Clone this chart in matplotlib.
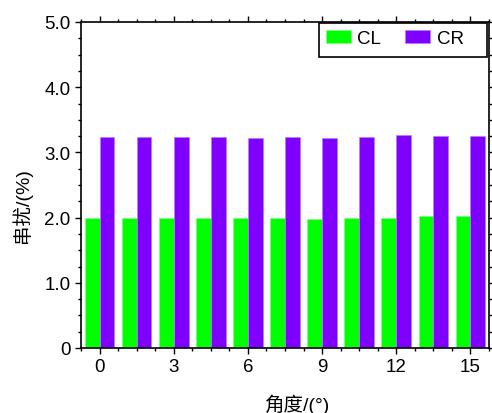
"""Crosstalk bar chart: CL vs CR across angle."""

import matplotlib

matplotlib.use("Agg")

import matplotlib.pyplot as plt
import numpy as np
from matplotlib.patches import Rectangle
from matplotlib.ticker import FuncFormatter, MultipleLocator

angles = [0, 1.5, 3, 4.5, 6, 7.5, 9, 10.5, 12, 13.5, 15]
cl_values = [1.99, 1.99, 1.99, 1.99, 1.99, 1.99, 1.98, 2.00, 2.00, 2.02, 2.02]
cr_values = [3.23, 3.23, 3.23, 3.24, 3.22, 3.23, 3.22, 3.23, 3.27, 3.25, 3.25]
series_names = ["CL", "CR"]
xlabel = "角度/(°)"
ylabel = "串扰/(%)"

plt.rcParams["font.family"] = ["Liberation Sans", "Noto Sans CJK SC"]

W, H = 492, 414
fig = plt.figure(figsize=(W / 100, H / 100), dpi=100)
ax = fig.add_axes([81 / W, 1 - 349 / H, 408 / W, 326 / H])

x = np.array(angles)
width = 0.6
ax.bar(x - width / 2, cl_values, width, color="#00ff00", edgecolor="#7fff7f",
       linewidth=0.5, label=series_names[0])
ax.bar(x + width / 2, cr_values, width, color="#8000ff", edgecolor="#b080ff",
       linewidth=0.5, label=series_names[1])

ax.set_xlim(-0.75, 15.75)
ax.set_ylim(0, 5)
ax.xaxis.set_major_locator(MultipleLocator(3))
ax.xaxis.set_minor_locator(MultipleLocator(0.75))
ax.yaxis.set_major_locator(MultipleLocator(1))
ax.yaxis.set_minor_locator(MultipleLocator(0.25))
ax.yaxis.set_major_formatter(FuncFormatter(lambda v, _: "0" if v == 0 else f"{v:.1f}"))

ax.tick_params(which="both", direction="out", top=True, right=True,
               labelsize=13.5, width=1.0)
ax.tick_params(which="major", length=4.5, pad=3)
ax.tick_params(which="minor", length=2.5)
for spine in ax.spines.values():
    spine.set_linewidth(1.2)

fig.text(298 / W, 1 - 405 / H, xlabel, fontsize=14, ha="center", va="center")
fig.text(22 / W, 1 - 206 / H, ylabel, fontsize=14, ha="center", va="center",
         rotation=90)

# legend box drawn by hand: the original frame is wider than its contents
box = Rectangle((319 / W, 1 - 58 / H), 168 / W, 34 / H, transform=fig.transFigure,
                facecolor="white", edgecolor="black", linewidth=1.2,
                zorder=4.5, clip_on=False)
ax.add_patch(box)
leg = ax.legend(loc="upper left", bbox_to_anchor=(319 / W, 1 - 24.5 / H),
                bbox_transform=fig.transFigure, ncol=2, fontsize=13.5,
                frameon=False, borderaxespad=0,
                handlelength=1.33, handleheight=0.7, handletextpad=0.35,
                columnspacing=1.3, borderpad=0.35)

fig.savefig("out.png", dpi=100)
